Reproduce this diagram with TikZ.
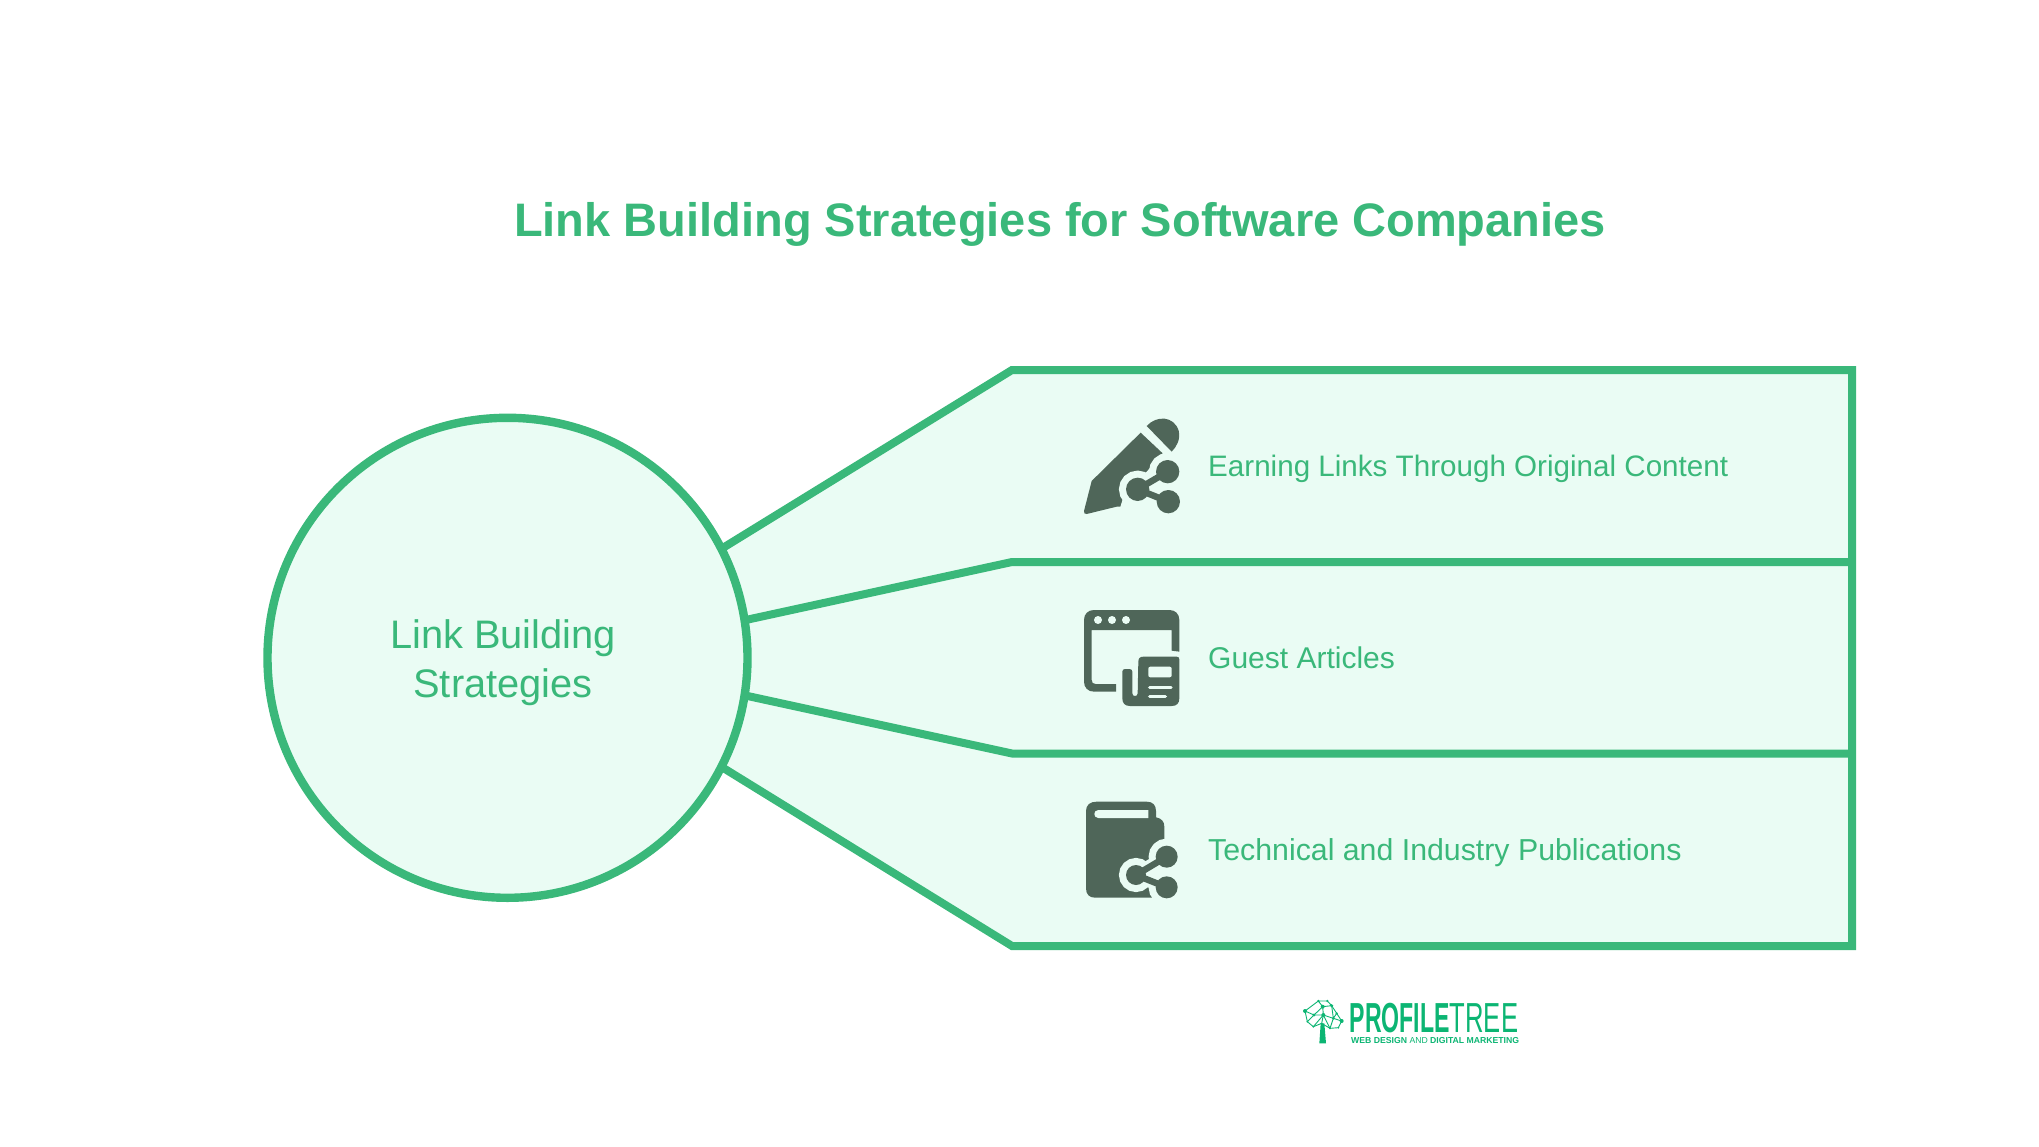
\documentclass[tikz,border=0pt]{standalone}
\usepackage{fontspec}
\usepackage{graphicx}
\setmainfont{Liberation Sans}
\usetikzlibrary{backgrounds}
\definecolor{brandgreen}{HTML}{3AB87A}
\definecolor{panelfill}{HTML}{EAFCF4}
\definecolor{icondark}{HTML}{4F6659}
\definecolor{logogreen}{HTML}{0CB573}
\tikzset{
  bandline/.style={draw=brandgreen,line width=8pt,miter limit=10},
  itemlabel/.style={anchor=base west,inner sep=0pt,text=brandgreen},
  iconbody/.style={fill=icondark,draw=none},
  iconhalo/.style={draw=panelfill,fill=panelfill,line width=14pt},
  iconlink/.style={draw=icondark,line width=6.5pt},
  iconcut/.style={fill=panelfill,draw=none},
  iconbar/.style={draw=panelfill,line width=3.4pt,line cap=round},
  iconpx/.style={x=0.33333pt,y=-0.33333pt},
  treeline/.style={draw=logogreen,line width=0.9pt},
  treedot/.style={fill=logogreen,draw=none}
}
\begin{document}
\begin{tikzpicture}[x=1pt,y=-1pt]
\useasboundingbox (0,0) rectangle (2039,1147);
\node (title) [anchor=base,inner sep=0pt,text=brandgreen,font=\fontsize{47}{50}\selectfont\bfseries] at (1060,236.5) {Link Building Strategies for Software Companies};

\node (hub) [circle,minimum size=480pt,inner sep=0pt,outer sep=0pt,draw=brandgreen,fill=panelfill,line width=8.4pt] at (507.5,657.8) {};
\node (hubtext) [align=center,inner sep=0pt,text=brandgreen,font=\fontsize{39.8}{49}\selectfont] at (503,663) {Link Building\\Strategies};

\coordinate (tl) at (1012,370);
\coordinate (tr) at (1852,370);
\coordinate (ml) at (1012,562);
\coordinate (mr) at (1852,562);
\coordinate (nl) at (1012,753.5);
\coordinate (nr) at (1852,753.5);
\coordinate (bl) at (1012,946);
\coordinate (br) at (1852,946);
\begin{scope}[on background layer]
  \path[fill=panelfill] (hub.27) -- (tl) -- (tr) -- (br) -- (bl) -- (hub.-27) -- cycle;
  \draw[bandline] (hub.27) -- (tl) -- (tr) -- (br) -- (bl) -- (hub.-27);
  \draw[bandline] (hub.9) -- (ml) -- (mr);
  \draw[bandline] (hub.-9) -- (nl) -- (nr);
\end{scope}

\node (item1) [itemlabel,font=\fontsize{29.6}{34}\selectfont] at (1208,476) {Earning Links Through Original Content};
\node (item2) [itemlabel,font=\fontsize{30}{34}\selectfont] at (1208,668) {Guest Articles};
\node (item3) [itemlabel,font=\fontsize{30.3}{34}\selectfont] at (1208,860) {Technical and Industry Publications};

% pencil + share icon
\begin{scope}[shift={(1050,400)},iconpx]
  \fill[iconbody] (272,98) -- (338,160) -- (300,320) -- (200,320) -- (110,342) .. controls (104,343) and (101,339) .. (102,333) -- (125,243) -- cycle;
  \fill[panelfill] (338,160) -- (400,160) -- (400,340) -- (205,340) -- (218,298) -- cycle;
  \fill[iconbody] (290,78) .. controls (320,45) and (372,48) .. (386,92) .. controls (392,118) and (380,140) .. (365,155) -- cycle;
  \path[iconhalo] (353,215) circle (35) (263,268) circle (35) (353,215) -- (263,268);
  \path[fill=icondark] (353,215) circle (35) (263,268) circle (35) (355,305) circle (35);
  \draw[iconlink] (353,215) -- (263,268) -- (355,305);
\end{scope}

% browser + newspaper icon
\begin{scope}[shift={(1050,590)},iconpx]
  \fill[iconbody] (198,305) -- (132,305) .. controls (114,305) and (102,293) .. (102,275) -- (102,90) .. controls (102,72) and (114,60) .. (132,60) -- (358,60) .. controls (376,60) and (388,72) .. (388,90) -- (388,185) -- (365,182) -- (365,120) -- (125,120) -- (125,270) .. controls (125,278) and (129,282) .. (137,282) -- (198,282) -- cycle;
  \fill[panelfill] (144,90) circle (12) (186,90) circle (12) (228,90) circle (12);
  \fill[iconbody] (265,215) .. controls (265,205) and (270,200) .. (280,200) -- (380,200) .. controls (385,200) and (388,203) .. (388,208) -- (388,325) .. controls (388,340) and (380,348) .. (365,348) -- (240,348) .. controls (225,348) and (217,340) .. (217,325) -- (217,245) .. controls (217,240) and (220,237) .. (225,237) -- (238,237) .. controls (244,237) and (247,240) .. (247,245) -- (247,310) .. controls (247,321) and (263,321) .. (263,310) -- cycle;
  \fill[iconcut,rounded corners=2pt] (295,230) rectangle (365,262);
  \draw[iconbar] (299,292) -- (363,292);
  \draw[iconbar] (299,320) -- (346,320);
\end{scope}

% book + share icon
\begin{scope}[shift={(1050,785)},iconpx]
  \fill[iconbody] (140,50) -- (290,50) .. controls (308,50) and (318,60) .. (318,78) -- (318,97) .. controls (335,100) and (343,110) .. (343,125) -- (343,338) -- (135,338) .. controls (118,338) and (108,328) .. (108,310) -- (108,78) .. controls (108,60) and (120,50) .. (140,50) -- cycle;
  \fill[panelfill] (345,150) rectangle (400,345);
  \fill[panelfill] (303,310) -- (345,310) -- (345,345) -- (316,345) -- cycle;
  \fill[iconcut] (145,75) -- (295,75) -- (295,99) -- (145,99) .. controls (129,99) and (129,75) .. (145,75) -- cycle;
  \path[iconhalo] (350,215) circle (33) (258,270) circle (30) (350,307) circle (33) (350,215) -- (258,270) -- (350,307);
  \path[fill=icondark] (350,215) circle (33) (258,270) circle (30) (350,307) circle (33);
  \draw[iconlink] (350,215) -- (258,270) -- (350,307);
\end{scope}

% logo
\begin{scope}[shift={(1290,985)},iconpx]
  \fill[logogreen] (92,115) -- (103,115) -- (108,175) -- (88,175) -- cycle;
  \draw[treeline] (45,78) -- (85,48) -- (112,48) -- (125,62) -- (140,85) -- (155,108) -- (145,128) -- (120,130) -- (100,90) -- (72,90) -- (45,78) -- (52,110) -- (70,125) -- (100,90) -- (98,65) -- (85,48);
  \draw[treeline] (98,65) -- (125,62) -- (130,100) -- (155,108) (130,100) -- (100,90) (98,65) -- (72,90) -- (52,110) (140,85) -- (130,100) -- (120,130) (70,125) -- (95,115) -- (100,90) (120,130) -- (95,115);
  \path[treedot] (45,78) circle (6) (85,48) circle (4) (112,48) circle (4) (98,65) circle (6) (125,62) circle (5) (140,85) circle (4) (155,108) circle (6) (100,90) circle (6) (72,90) circle (5) (52,110) circle (3) (70,125) circle (3) (130,100) circle (4) (120,130) circle (3) (145,128) circle (3);
\end{scope}
\node (logoword) [anchor=north west,inner sep=0pt,align=left,text=logogreen] at (1349.5,1003) {{\fontsize{42}{42}\selectfont\scalebox{0.55}[1]{\bfseries PROFILE}\scalebox{0.61}[1]{TREE}}\\[-1pt]{\fontsize{8.67}{10}\selectfont\hspace{1.5pt}\bfseries WEB DESIGN \mdseries AND \bfseries DIGITAL MARKETING}};
\end{tikzpicture}
\end{document}
